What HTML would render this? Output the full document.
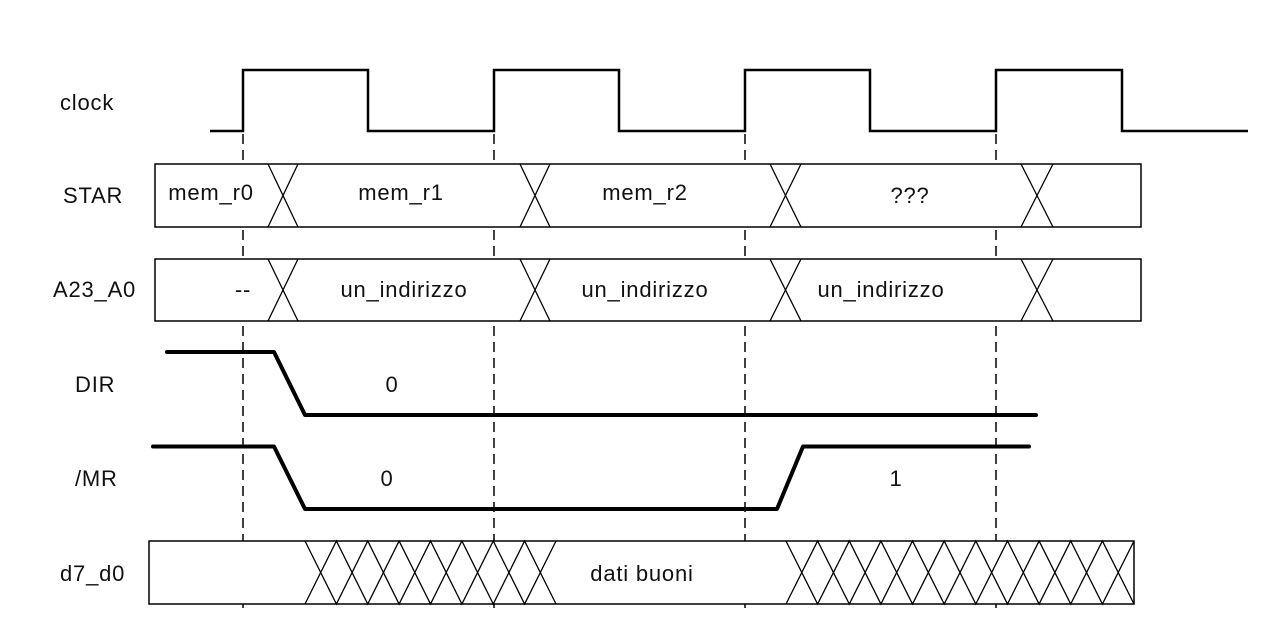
<!DOCTYPE html>
<html><head><meta charset="utf-8"><style>
html,body{margin:0;padding:0;background:#fff;}
svg{display:block;}
text{font-family:"Liberation Sans",sans-serif;font-size:22px;letter-spacing:0.8px;fill:#111;}
</style></head><body>
<svg width="1264" height="618" viewBox="0 0 1264 618" xmlns="http://www.w3.org/2000/svg">
<g stroke="#000" stroke-width="1.5" stroke-dasharray="10,6" fill="none">
<line x1="243" y1="134" x2="243" y2="612"/>
<line x1="494" y1="134" x2="494" y2="612"/>
<line x1="745" y1="134" x2="745" y2="612"/>
<line x1="996" y1="134" x2="996" y2="612"/>
</g>
<polyline fill="none" stroke="#000" stroke-width="2.5" points="210,131 243,131 243,70 368,70 368,131 494,131 494,70 619,70 619,131 745,131 745,70 870,70 870,131 996,131 996,70 1122,70 1122,131 1248,131"/>
<g fill="#fff" stroke="#000" stroke-width="1.5">
<rect x="155" y="164" width="986" height="63"/>
<rect x="155" y="259" width="986" height="62"/>
<rect x="149" y="541" width="985" height="63"/>
</g>
<g stroke="#000" stroke-width="1.3" fill="none">
<path d="M268,164 L298,227 M298,164 L268,227 M520,164 L550,227 M550,164 L520,227 M770,164 L801,227 M801,164 L770,227 M1021,164 L1053,227 M1053,164 L1021,227"/>
<path d="M268,259 L298,321 M298,259 L268,321 M520,259 L550,321 M550,259 L520,321 M770,259 L801,321 M801,259 L770,321 M1021,259 L1053,321 M1053,259 L1021,321"/>
<polyline points="305,541 336.4,604 367.75,541 399.1,604 430.5,541 461.9,604 493.25,541 524.6,604 556,541"/>
<polyline points="305,604 336.4,541 367.75,604 399.1,541 430.5,604 461.9,541 493.25,604 524.6,541 556,604"/>
<polyline points="786,541 817.6,604 849.3,541 880.9,604 912.5,541 944.2,604 975.8,541 1007.5,604 1039.1,541 1070.7,604 1102.4,541 1134,604"/>
<polyline points="786,604 817.6,541 849.3,604 880.9,541 912.5,604 944.2,541 975.8,604 1007.5,541 1039.1,604 1070.7,541 1102.4,604 1134,541"/>
</g>
<polyline fill="none" stroke="#000" stroke-width="4" stroke-linecap="round" stroke-linejoin="round" points="167,352 274,352 305,415 1036,415"/>
<polyline fill="none" stroke="#000" stroke-width="4" stroke-linecap="round" stroke-linejoin="round" points="153,446.5 274,446.5 305,509 777,509 803,446.5 1029,446.5"/>
<text x="60" y="110">clock</text>
<text x="63" y="203">STAR</text>
<text x="53" y="297">A23_A0</text>
<text x="75" y="392">DIR</text>
<text x="75" y="486">/MR</text>
<text x="60" y="581">d7_d0</text>
<g text-anchor="middle">
<text x="211" y="200">mem_r0</text>
<text x="401" y="200">mem_r1</text>
<text x="645" y="200">mem_r2</text>
<text x="910" y="203">???</text>
<text x="243" y="297">--</text>
<text x="404" y="297">un_indirizzo</text>
<text x="645" y="297">un_indirizzo</text>
<text x="881" y="297">un_indirizzo</text>
<text x="392" y="392">0</text>
<text x="387" y="486">0</text>
<text x="896" y="486">1</text>
<text x="642" y="581">dati buoni</text>
</g>
</svg>
</body></html>
